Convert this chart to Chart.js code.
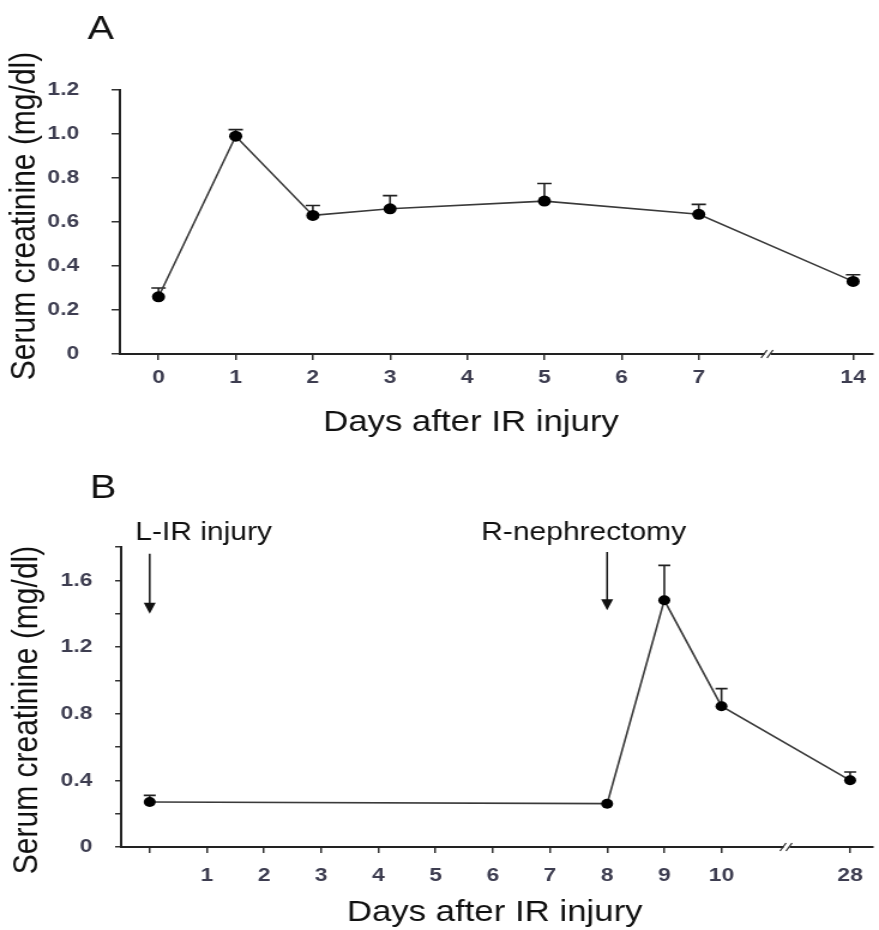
<!DOCTYPE html>
<html><head><meta charset="utf-8">
<script src="https://cdn.jsdelivr.net/npm/chart.js@4.4.1/dist/chart.umd.min.js"></script>
<style>
html,body{margin:0;padding:0;background:#fff;width:879px;height:930px;overflow:hidden}
.wrap{position:absolute;left:0;width:733px;transform-origin:0 0;transform:scaleX(1.19918)}
#wa{top:0;height:440px}
#wb{top:460px;height:470px}
</style></head><body>
<div class="wrap" id="wa"><canvas id="ca"></canvas></div>
<div class="wrap" id="wb"><canvas id="cb"></canvas></div>
<script>
// ---------- Panel A ----------
const daysA = [0, 1, 2, 3, 5, 7, 14];
const meanA = [0.26, 0.99, 0.63, 0.66, 0.695, 0.635, 0.33];
const errA  = [0.04, 0.03, 0.045, 0.06, 0.08, 0.045, 0.03];
const tickDaysA = [0, 1, 2, 3, 4, 5, 6, 7, 14];
const tickLabelsA = ['0', '1', '2', '3', '4', '5', '6', '7', '14'];

// ---------- Panel B ----------
const daysB = [0, 8, 9, 10, 28];
const meanB = [0.27, 0.26, 1.48, 0.845, 0.40];
const errB  = [0.04, 0, 0.21, 0.105, 0.05];
const tickDaysB = [0, 1, 2, 3, 4, 5, 6, 7, 8, 9, 10, 28];
const tickLabelsB = ['', '1', '2', '3', '4', '5', '6', '7', '8', '9', '10', '28'];
const eventsB = [
  {day: 0, label: 'L-IR injury', from: 1.76, to: 1.40, textAt: 1.84, dx: -12},
  {day: 8, label: 'R-nephrectomy', from: 1.77, to: 1.42, textAt: 1.84, dx: -105}
];

const xTitle = 'Days after IR injury';
const yTitle = 'Serum creatinine (mg/dl)';

// broken x axes: days beyond the break are drawn at a compressed position
const axisA = {lastRegular: 7, farPos: 9, breakAt: 7.9, min: -0.5, max: 9.25};
const axisB = {lastRegular: 10, farPos: 12.25, breakAt: 11.15, min: -0.5, max: 12.65};
function pos(axis, d) { return d <= axis.lastRegular ? d : axis.farPos; }

const FONT = '"Liberation Sans", Arial, Helvetica, sans-serif';
const TICKCOL = '#3d3d50';

const decor = {
  id: 'decor',
  beforeDatasetsDraw(chart, args, o) {
    const {ctx, scales: {x, y}} = chart;
    ctx.save();
    ctx.strokeStyle = '#222'; ctx.lineWidth = 1.6;
    o.days.forEach((d, i) => {
      if (!o.err[i]) return;
      const px = x.getPixelForValue(pos(o.axis, d));
      const y0 = y.getPixelForValue(o.mean[i]);
      const y1 = y.getPixelForValue(o.mean[i] + o.err[i]);
      ctx.beginPath();
      ctx.moveTo(px, y0); ctx.lineTo(px, y1);
      ctx.moveTo(px - o.cap, y1); ctx.lineTo(px + o.cap, y1);
      ctx.stroke();
    });
    ctx.restore();
  },
  afterDraw(chart, args, o) {
    const {ctx, chartArea, scales: {x, y}} = chart;
    ctx.save();
    // axis break mark
    const bx = x.getPixelForValue(o.axis.breakAt);
    const by = chartArea.bottom;
    ctx.fillStyle = '#fff';
    ctx.fillRect(bx - 3, by - 2, 5, 4);
    ctx.strokeStyle = '#333'; ctx.lineWidth = 1.3;
    ctx.beginPath();
    ctx.moveTo(bx - 6, by + 4); ctx.lineTo(bx - 1, by - 4);
    ctx.moveTo(bx - 1, by + 4); ctx.lineTo(bx + 4, by - 4);
    ctx.stroke();
    // axis titles
    ctx.fillStyle = '#111';
    ctx.font = '29px ' + FONT;
    ctx.textAlign = 'center'; ctx.textBaseline = 'alphabetic';
    ctx.fillText(xTitle, (chartArea.left + chartArea.right) / 2 + o.xtDx, o.xtY);
    ctx.save();
    ctx.translate(o.ytX, (chartArea.top + chartArea.bottom) / 2 + o.ytDy);
    ctx.rotate(-Math.PI / 2);
    ctx.font = '30px ' + FONT;
    ctx.textBaseline = 'middle';
    ctx.fillText(yTitle, 0, 0);
    ctx.restore();
    // panel letter
    ctx.font = '33px ' + FONT;
    ctx.textAlign = 'left'; ctx.textBaseline = 'alphabetic';
    ctx.fillText(o.letter, o.letterX, o.letterY);
    // event arrows
    (o.events || []).forEach(ev => {
      const px = x.getPixelForValue(pos(o.axis, ev.day));
      const yt = y.getPixelForValue(ev.from);
      const yp = y.getPixelForValue(ev.to);
      ctx.strokeStyle = '#111'; ctx.lineWidth = 1.5;
      ctx.beginPath(); ctx.moveTo(px, yt); ctx.lineTo(px, yp - 8); ctx.stroke();
      ctx.fillStyle = '#111';
      ctx.beginPath();
      ctx.moveTo(px - 5, yp - 11); ctx.lineTo(px + 5, yp - 11); ctx.lineTo(px, yp);
      ctx.closePath(); ctx.fill();
      ctx.font = '25px ' + FONT;
      ctx.fillText(ev.label, px + ev.dx, y.getPixelForValue(ev.textAt));
    });
    ctx.restore();
  }
};

function build(id, p) {
  return new Chart(document.getElementById(id), {
    type: 'line',
    data: {
      datasets: [{
        data: p.days.map((d, i) => ({x: pos(p.axis, d), y: p.mean[i]})),
        borderColor: '#3a3a3a', borderWidth: 1.6, tension: 0,
        pointRadius: p.r, pointBackgroundColor: '#000', pointBorderWidth: 0,
        pointHoverRadius: p.r, fill: false
      }]
    },
    options: {
      responsive: true, maintainAspectRatio: false, animation: false,
      layout: {padding: {top: p.top, right: 0, left: 0, bottom: 0}},
      plugins: {
        legend: {display: false}, tooltip: {enabled: false},
        decor: {days: p.days, mean: p.mean, err: p.err, axis: p.axis, cap: p.cap,
                letter: p.letter, letterX: p.letterX, letterY: p.letterY, events: p.events,
                xtDx: p.xtDx, xtY: p.xtY, ytX: p.ytX, ytDy: p.ytDy}
      },
      scales: {
        x: {
          type: 'linear', min: p.axis.min, max: p.axis.max,
          afterBuildTicks: s => { s.ticks = p.tickDays.map(d => ({value: pos(p.axis, d)})); },
          afterFit: s => { s.height = p.xh; s.paddingLeft = 0; s.paddingRight = 0; },
          ticks: {autoSkip: false, maxRotation: 0, padding: p.xpad, color: TICKCOL,
                  font: {family: FONT, size: 19, weight: 'bold'},
                  callback: (v, i) => p.tickLabels[i]},
          grid: {drawOnChartArea: false, drawTicks: true, tickLength: 6, color: '#333', lineWidth: 1.5},
          border: {display: true, color: '#222', width: 2},
          title: {display: false}
        },
        y: {
          min: 0, max: p.ymax,
          afterFit: s => { s.width = p.yw; s.paddingTop = 0; s.paddingBottom = 0; },
          ticks: {stepSize: 0.2, padding: p.ypad, color: TICKCOL,
                  font: {family: FONT, size: 19, weight: 'bold'}, callback: p.ycb},
          grid: {drawOnChartArea: false, drawTicks: true, tickLength: p.ytl, color: '#333', lineWidth: 1.5},
          border: {display: true, color: '#222', width: 2},
          title: {display: false}
        }
      }
    },
    plugins: [decor]
  });
}

build('ca', {
  days: daysA, mean: meanA, err: errA, axis: axisA, tickDays: tickDaysA, tickLabels: tickLabelsA,
  r: 5.5, cap: 6, top: 90, xh: 86, yw: 100, ymax: 1.2, xpad: 6, ypad: 27, ytl: 7,
  xtDx: -21, xtY: 431, ytX: 21, ytDy: -6,
  letter: 'A', letterX: 73, letterY: 39, events: [],
  ycb: v => (Math.abs(v) < 1e-9 ? '0' : v.toFixed(1))
});

build('cb', {
  days: daysB, mean: meanB, err: errB, axis: axisB, tickDays: tickDaysB, tickLabels: tickLabelsB,
  r: 5, cap: 5, top: 87, xh: 83, yw: 101, ymax: 1.8, xpad: 11, ypad: 19, ytl: 5,
  xtDx: -2, xtY: 461, ytX: 23, ytDy: 13,
  letter: 'B', letterX: 75, letterY: 38, events: eventsB,
  ycb: v => { const k = Math.round(v * 10); return k % 4 === 0 ? (k === 0 ? '0' : v.toFixed(1)) : ''; }
});
</script>
</body></html>
